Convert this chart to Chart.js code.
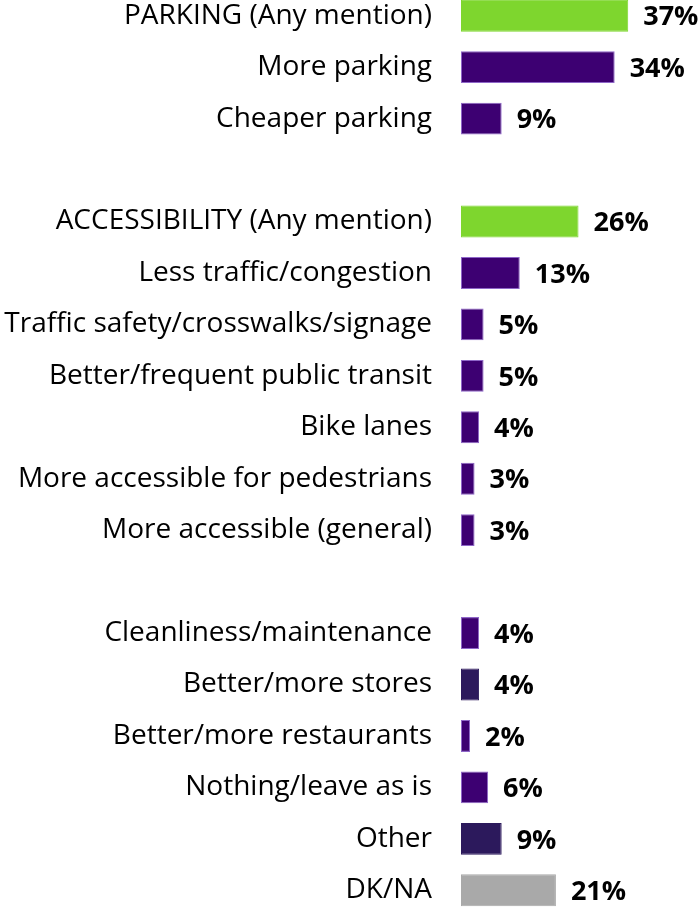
<!DOCTYPE html>
<html>
<head>
<meta charset="utf-8">
<script src="https://cdn.jsdelivr.net/npm/chart.js@4"></script>
<style>
  html, body { margin: 0; padding: 0; background: #fff; overflow: hidden; }
  #improveChart { position: absolute; left: 0; top: -10px; }
</style>
</head>
<body>
<canvas id="improveChart" width="699" height="926"></canvas>
<script>
// Suggested improvements, % of respondents (blank entries are spacer rows)
const categories = [
  'PARKING (Any mention)', 'More parking', 'Cheaper parking', '',
  'ACCESSIBILITY (Any mention)', 'Less traffic/congestion', 'Traffic safety/crosswalks/signage',
  'Better/frequent public transit', 'Bike lanes', 'More accessible for pedestrians',
  'More accessible (general)', '',
  'Cleanliness/maintenance', 'Better/more stores', 'Better/more restaurants',
  'Nothing/leave as is', 'Other', 'DK/NA'
];
const percents = [37, 34, 9, null, 26, 13, 5, 5, 4, 3, 3, null, 4, 4, 2, 6, 9, 21];

const GREEN = '#7ED62E';
const PURPLE = '#3D0072';
const DARK = '#2C195C';
const GRAY = '#A9A9A9';

const barColors = [GREEN, PURPLE, PURPLE, null, GREEN, PURPLE, PURPLE, PURPLE, PURPLE, PURPLE,
  PURPLE, null, PURPLE, DARK, PURPLE, PURPLE, DARK, GRAY];
const edgeColors = barColors.map(c => c === PURPLE ? '#8E66C8' : c);

const FONT = '"Open Sans", sans-serif';

// writes "NN%" just past the end of every bar
const valueLabels = {
  id: 'valueLabels',
  afterDatasetsDraw(chart) {
    const ctx = chart.ctx;
    const meta = chart.getDatasetMeta(0);
    ctx.save();
    ctx.font = 'bold 27px ' + FONT;
    ctx.fillStyle = '#000';
    ctx.textAlign = 'left';
    ctx.textBaseline = 'middle';
    meta.data.forEach((bar, i) => {
      if (percents[i] == null) return;
      ctx.fillText(percents[i] + '%', bar.x + 15, bar.y + 2);
    });
    ctx.restore();
  }
};

new Chart(document.getElementById('improveChart').getContext('2d'), {
  type: 'bar',
  data: {
    labels: categories,
    datasets: [{
      data: percents,
      backgroundColor: barColors,
      borderColor: edgeColors,
      borderWidth: 1,
      borderSkipped: false,
      categoryPercentage: 1,
      barPercentage: 0.62
    }]
  },
  options: {
    indexAxis: 'y',
    responsive: false,
    animation: false,
    layout: { padding: { left: 0, right: 12, top: 0, bottom: 0 } },
    plugins: { legend: { display: false }, tooltip: { enabled: false } },
    scales: {
      x: {
        min: 0,
        max: 50,
        display: false
      },
      y: {
        grid: { display: false, drawTicks: false },
        border: { display: false },
        ticks: {
          color: '#000',
          padding: 29,
          autoSkip: false,
          font: { family: FONT, size: 28 }
        },
        afterFit(scale) {
          scale.width = 461;
          // keep the rows spread over the full height
          scale.paddingTop = 0;
          scale.paddingBottom = 0;
        }
      }
    }
  },
  plugins: [valueLabels]
});
</script>
</body>
</html>
